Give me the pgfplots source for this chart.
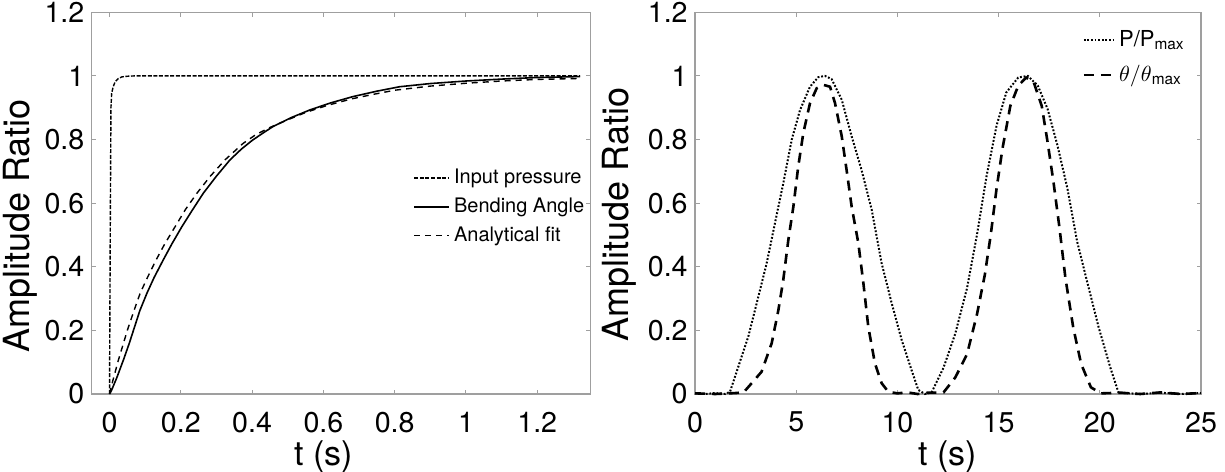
\documentclass[border=0pt]{standalone}
\usepackage{fontspec}
\setmainfont{TeX Gyre Heros}
\usepackage{pgfplots}
\pgfplotsset{compat=1.18}

\pgfplotsset{
 mystyle/.style={
  scale only axis,
  height=190.85pt,
  ymin=0, ymax=1.2,
  ytick={0,0.2,0.4,0.6,0.8,1,1.2},
  axis line style={draw=gray!75, line width=0.6pt},
  tick style={draw=gray!75, line width=0.5pt},
  major tick length=2.25pt,
  tick align=inside,
  /pgf/number format/assume math mode=true,
  tick label style={font=\fontsize{14.3}{16}\selectfont},
  yticklabel style={inner sep=0pt, xshift=-3.5pt},
  xticklabel style={inner sep=0pt, yshift=-8.8pt},
  ylabel={Amplitude Ratio},
  xlabel={t (s)},
  ylabel style={font=\fontsize{18}{22}\selectfont, anchor=south, inner sep=0pt},
  xlabel style={font=\fontsize{17}{20}\selectfont, anchor=base, inner sep=0pt},
  clip=false,
  legend cell align=left,
 }
}

\begin{document}
\begin{tikzpicture}
% ---------------- left panel ----------------
\begin{axis}[mystyle,
  at={(45.85pt,38.5pt)}, anchor=south west,
  width=249.5pt,
  xmin=-0.05, xmax=1.35,
  xtick={0,0.2,0.4,0.6,0.8,1,1.2},
  ylabel style={at={(axis description cs:-0.108,0.44)}},
  xlabel style={at={(axis description cs:0.4655,-0.188)}},
  legend style={draw=none, fill=none, at={(axis description cs:0.644,0.60)}, anchor=north west,
    inner sep=0pt, font=\fontsize{10}{12}\selectfont, row sep=1.5pt},
  legend image code/.code={\draw[#1] (0pt,0pt) -- (17.5pt,0pt);},
]
\addplot[black, line width=0.7pt, dash pattern=on 2pt off 0.8pt] coordinates {
(0,0) (0.002,0.5) (0.004,0.9) (0.006,0.945) (0.01,0.965) (0.016,0.982) (0.025,0.992)
(0.035,0.997) (0.05,0.999) (0.07,1.0) (1.32,1.0)};
\addlegendentry{Input pressure}
\addplot[black, line width=0.8pt] coordinates {
(0,0) (0.005,0.01) (0.02,0.05) (0.039,0.107) (0.055,0.158) (0.07,0.21) (0.085,0.262)
(0.105,0.317) (0.125,0.366) (0.15,0.42) (0.175,0.472) (0.203,0.526) (0.23,0.574)
(0.263,0.631) (0.3,0.685) (0.338,0.736) (0.37,0.77) (0.40,0.797) (0.43,0.82) (0.459,0.841)
(0.51,0.869) (0.562,0.893) (0.62,0.915) (0.683,0.935) (0.75,0.952) (0.814,0.966)
(0.9,0.976) (1.0,0.984) (1.1,0.99) (1.2,0.995) (1.32,0.998)};
\addlegendentry{Bending Angle}
\addplot[black, line width=0.7pt, dash pattern=on 3pt off 2.5pt] coordinates {
(0,0) (0.01,0.045) (0.025,0.107) (0.05,0.2) (0.068,0.26) (0.086,0.317) (0.108,0.37)
(0.13,0.42) (0.155,0.472) (0.184,0.526) (0.213,0.58) (0.245,0.631) (0.283,0.685)
(0.324,0.736) (0.375,0.788) (0.41,0.815) (0.45,0.838) (0.5,0.862) (0.55,0.885)
(0.61,0.907) (0.68,0.928) (0.74,0.942) (0.8,0.955) (0.9,0.968) (1.0,0.977)
(1.1,0.984) (1.2,0.989) (1.32,0.992)};
\addlegendentry{Analytical fit}
\end{axis}

% ---------------- right panel ----------------
\begin{axis}[mystyle,
  at={(347.5pt,38.5pt)}, anchor=south west,
  width=253pt,
  xmin=0, xmax=25,
  xtick={0,5,10,15,20,25},
  ylabel style={at={(axis description cs:-0.115,0.47)}},
  xlabel style={at={(axis description cs:0.5,-0.188)}},
  legend style={draw=none, fill=none, at={(axis description cs:0.765,0.965)}, anchor=north west,
    inner sep=0pt, font=\fontsize{11}{13}\selectfont, row sep=4pt},
  legend image code/.code={\draw[#1] (0pt,0pt) -- (15pt,0pt);},
]
\addplot[black, line width=1pt, dash pattern=on 0.9pt off 0.9pt] coordinates {
(0,0.002) (0.5,0.0) (1.0,0.003) (1.5,0.0) (1.73,0.007) (2.14,0.086) (2.63,0.18)
(3.13,0.306) (3.54,0.411) (3.95,0.537) (4.36,0.662) (4.78,0.80) (5.19,0.893)
(5.68,0.966) (6.09,0.996) (6.42,1.0) (6.75,0.99) (7.25,0.925) (7.74,0.81) (8.23,0.704)
(8.73,0.579) (9.22,0.411) (9.72,0.285) (10.21,0.17) (10.7,0.075) (11.03,0.013)
(11.36,0.0) (11.69,0.005) (12.28,0.083) (12.86,0.19) (13.44,0.333) (13.93,0.5)
(14.41,0.687) (14.9,0.844) (15.38,0.948) (15.97,0.995) (16.45,1.0) (16.94,0.969)
(17.42,0.896) (17.91,0.781) (18.4,0.646) (18.88,0.479) (19.37,0.354) (19.95,0.208)
(20.52,0.083) (20.92,0.005) (21.5,0.002) (22,0.0) (23,0.004) (24,0.0) (25,0.003)};
\addlegendentry{P/P\textsubscript{max}}
\addplot[black, line width=1.3pt, dash pattern=on 5pt off 3.5pt] coordinates {
(0,0.002) (1,0.0) (2,0.003) (2.4,0.005) (2.8,0.034) (3.29,0.07) (3.79,0.16) (4.12,0.264)
(4.36,0.358) (4.61,0.484) (4.86,0.589) (5.1,0.715) (5.35,0.82) (5.68,0.914) (6.01,0.961)
(6.34,0.972) (6.67,0.966) (6.92,0.914) (7.25,0.81) (7.49,0.704) (7.74,0.589) (8.07,0.474)
(8.32,0.348) (8.56,0.212) (8.89,0.096) (9.22,0.034) (9.55,0.007) (10,0.002) (10.5,0.005)
(11,0.0) (11.5,0.004) (12.28,0.005) (12.86,0.052) (13.44,0.125) (13.93,0.25) (14.32,0.375)
(14.61,0.5) (14.9,0.646) (15.19,0.771) (15.58,0.906) (15.97,0.969) (16.36,0.995)
(16.74,0.979) (17.13,0.906) (17.42,0.792) (17.71,0.667) (18.01,0.521) (18.3,0.365)
(18.69,0.208) (19.08,0.094) (19.56,0.021) (20.05,0.002) (21,0.004) (22,0.0) (23,0.005)
(24,0.0) (25,0.003)};
\addlegendentry{$\theta/\theta$\textsubscript{max}}
\end{axis}

\pgfresetboundingbox
\useasboundingbox (0,0) rectangle (612.5pt,235.5pt);
\end{tikzpicture}
\end{document}
